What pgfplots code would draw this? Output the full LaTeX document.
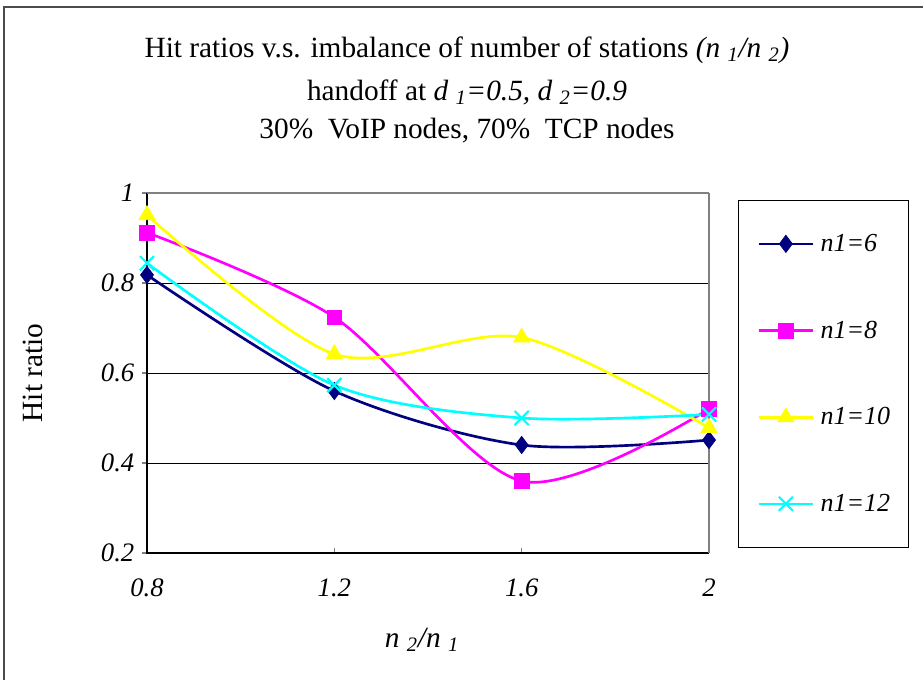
\documentclass[border=0pt]{standalone}
\usepackage{pgfplots}
\pgfplotsset{compat=1.18}
\usepackage{fontspec}
\setmainfont{Liberation Serif}

\definecolor{cNavy}{RGB}{0,0,128}
\definecolor{cMag}{RGB}{255,0,255}
\definecolor{cYel}{RGB}{255,255,0}
\definecolor{cCyan}{RGB}{0,255,255}

\begin{document}
\begin{tikzpicture}[font=\fontsize{22}{26}\selectfont]
\useasboundingbox (0,0) rectangle (692.25pt,-510pt);
% outer chart frame
\draw[black!70, line width=1.2pt] (3pt,-530pt) -- (3pt,-5.25pt) -- (710pt,-5.25pt);

% titles
\node at (350.25pt,-37.5pt) {Hit ratios v.s. imbalance of number of stations \textit{(n \textsubscript{1}/n \textsubscript{2})}};
\node at (350.25pt,-69pt) {handoff at \textit{d \textsubscript{1}=0.5, d \textsubscript{2}=0.9}};
\node at (350.25pt,-98.25pt) {30\%\ \ VoIP nodes, 70\%\ \ TCP nodes};
\node[rotate=90] at (24.75pt,-279.75pt) {Hit ratio};
\node at (316.5pt,-480pt) {\textit{n \textsubscript{2}/n \textsubscript{1}}};

\begin{axis}[
  at={(110.25pt,-414.75pt)}, anchor=south west,
  scale only axis, width=421.5pt, height=270pt,
  xmin=0.8, xmax=2, ymin=0.2, ymax=1,
  xtick={0.8,1.2,1.6,2},
  xticklabels={\textit{0.8},\textit{1.2},\textit{1.6},\textit{2}},
  ytick={0.2,0.4,0.6,0.8,1},
  yticklabels={\textit{0.2},\textit{0.4},\textit{0.6},\textit{0.8},\textit{1}},
  ticklabel style={font=\fontsize{20}{24}\selectfont},
  xtick align=inside, ytick align=outside,
  major tick length=4pt,
  tick style={gray, line width=0.8pt},
  xtick pos=bottom, ytick pos=left,
  xticklabel style={yshift=-16pt},
  yticklabel style={xshift=-2pt},
  ymajorgrids, grid style={black, line width=0.6pt},
  axis line style={draw=none},
  clip=false,
  every axis plot/.append style={line width=2pt, smooth, tension=0.5},
  legend style={at={(1.0516,0.9806)}, anchor=north west, draw=black, line width=0.8pt,
    inner xsep=14pt, inner ysep=0pt, column sep=4.5pt,
    nodes={inner sep=0pt, minimum height=65pt, text width=52pt, font=\fontsize{19.5}{23}\selectfont\itshape}},
  legend cell align=left,
  legend image code/.code={\draw[mark repeat=2, mark phase=2] plot coordinates {(0pt,0pt) (20.5pt,0pt) (41pt,0pt)};},
]
\draw[black, line width=1.1pt] (axis cs:0.8,1) -- (axis cs:0.8,0.2) -- (axis cs:2,0.2);
\draw[gray, line width=0.9pt] (axis cs:0.8,1) -- (axis cs:2,1);
\draw[gray, line width=2pt] (axis cs:2,1) -- (axis cs:2,0.2);

\addplot[cNavy, mark=diamond*, mark size=6.5pt, mark options={line width=0.5pt}] coordinates {(0.8,0.818) (1.2,0.560) (1.6,0.440) (2,0.451)};
\addlegendentry{n1=6}
\addplot[cMag, mark=square*, mark size=5.5pt, mark options={line width=0.5pt}] coordinates {(0.8,0.912) (1.2,0.724) (1.6,0.360) (2,0.520)};
\addlegendentry{n1=8}
\addplot[cYel, mark=triangle*, mark size=7pt, mark options={line width=0.5pt}] coordinates {(0.8,0.951) (1.2,0.642) (1.6,0.679) (2,0.478)};
\addlegendentry{n1=10}
\addplot[cCyan, mark=x, mark size=7.5pt, mark options={line width=1.6pt}] coordinates {(0.8,0.844) (1.2,0.573) (1.6,0.500) (2,0.508)};
\addlegendentry{n1=12}
\end{axis}
\end{tikzpicture}
\end{document}
